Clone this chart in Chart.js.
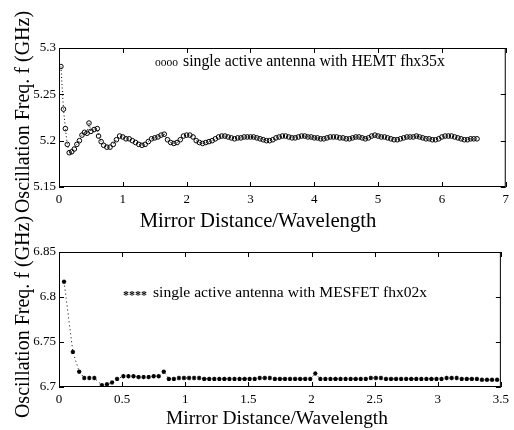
<!DOCTYPE html>
<html>
<head>
<meta charset="utf-8">
<script src="https://cdn.jsdelivr.net/npm/chart.js@4.4.1/dist/chart.umd.min.js"></script>
<style>
  html, body { margin: 0; padding: 0; background: #fff; }
  #wrap { position: relative; width: 514px; height: 430px; overflow: hidden; }
  #hemtChart { position: absolute; left: 0; top: 0; width: 514px; height: 240px; }
  #mesfetChart { position: absolute; left: 0; top: 195px; width: 514px; height: 235px; }
</style>
</head>
<body>
<div id="wrap">
  <canvas id="hemtChart" width="514" height="240"></canvas>
  <canvas id="mesfetChart" width="514" height="235"></canvas>
</div>
<script>
// top plot: HEMT fhx35x
const hemtDist = [
  0.03, 0.07, 0.10, 0.13, 0.16, 0.20, 0.24, 0.28, 0.32, 0.36, 0.40, 0.44, 0.47, 0.50, 0.55, 0.60, 0.62, 0.66, 0.70, 0.75,
  0.80, 0.85, 0.90, 0.95, 1.00, 1.05, 1.10, 1.15, 1.20, 1.25, 1.30, 1.35, 1.40, 1.45, 1.50, 1.55, 1.60, 1.65, 1.70, 1.75,
  1.80, 1.85, 1.90, 1.95, 2.00, 2.05, 2.10, 2.15, 2.20, 2.25, 2.30, 2.35, 2.40, 2.45, 2.50, 2.55, 2.60, 2.65, 2.70, 2.75,
  2.80, 2.85, 2.90, 2.95, 3.00, 3.05, 3.10, 3.15, 3.20, 3.25, 3.30, 3.35, 3.40, 3.45, 3.50, 3.55, 3.60, 3.65, 3.70, 3.75,
  3.80, 3.85, 3.90, 3.95, 4.00, 4.05, 4.10, 4.15, 4.20, 4.25, 4.30, 4.35, 4.40, 4.45, 4.50, 4.55, 4.60, 4.65, 4.70, 4.75,
  4.80, 4.85, 4.90, 4.95, 5.00, 5.05, 5.10, 5.15, 5.20, 5.25, 5.30, 5.35, 5.40, 5.45, 5.50, 5.55, 5.60, 5.65, 5.70, 5.75,
  5.80, 5.85, 5.90, 5.95, 6.00, 6.05, 6.10, 6.15, 6.20, 6.25, 6.30, 6.35, 6.40, 6.45, 6.50, 6.55
];
const hemtFreq = [
  5.280, 5.234, 5.213, 5.196, 5.187, 5.188, 5.191, 5.196, 5.200, 5.206, 5.209, 5.208, 5.219, 5.210, 5.212, 5.213, 5.205, 5.199, 5.195, 5.193,
  5.193, 5.196, 5.201, 5.205, 5.204, 5.202, 5.202, 5.200, 5.198, 5.196, 5.195, 5.196, 5.199, 5.202, 5.203, 5.204, 5.206, 5.207, 5.201, 5.198,
  5.197, 5.198, 5.201, 5.205, 5.206, 5.206, 5.204, 5.200, 5.198, 5.197, 5.198, 5.199, 5.200, 5.202, 5.204, 5.205, 5.205, 5.204, 5.203, 5.202,
  5.203, 5.203, 5.204, 5.204, 5.204, 5.204, 5.203, 5.202, 5.201, 5.200, 5.200, 5.201, 5.203, 5.204, 5.205, 5.205, 5.204, 5.203, 5.203, 5.204,
  5.205, 5.205, 5.204, 5.204, 5.203, 5.203, 5.202, 5.202, 5.203, 5.204, 5.204, 5.204, 5.203, 5.203, 5.202, 5.202, 5.203, 5.204, 5.204, 5.203,
  5.202, 5.203, 5.205, 5.206, 5.205, 5.204, 5.204, 5.203, 5.202, 5.201, 5.201, 5.202, 5.203, 5.204, 5.204, 5.204, 5.205, 5.204, 5.203, 5.202,
  5.202, 5.201, 5.201, 5.202, 5.204, 5.205, 5.205, 5.205, 5.204, 5.203, 5.202, 5.201, 5.201, 5.202, 5.202, 5.202
];
const hemtXTicks = [0, 1, 2, 3, 4, 5, 6, 7];
const hemtXLabels = ["0", "1", "2", "3", "4", "5", "6", "7"];
const hemtYTicks = [5.15, 5.2, 5.25, 5.3];
const hemtYLabels = ["5.15", "5.2", "5.25", "5.3"];

// bottom plot: MESFET fhx02x
const mesfetDist = [
  0.04, 0.11, 0.16, 0.20, 0.24, 0.28, 0.34, 0.38, 0.42, 0.46, 0.51, 0.55, 0.59, 0.63, 0.67, 0.71, 0.75, 0.79, 0.83, 0.87,
  0.91, 0.95, 0.99, 1.03, 1.07, 1.11, 1.15, 1.19, 1.23, 1.27, 1.31, 1.35, 1.39, 1.43, 1.47, 1.51, 1.55, 1.59, 1.63, 1.67,
  1.71, 1.75, 1.79, 1.83, 1.87, 1.91, 1.95, 1.99, 2.03, 2.07, 2.11, 2.15, 2.19, 2.23, 2.27, 2.31, 2.35, 2.39, 2.43, 2.47,
  2.51, 2.55, 2.59, 2.63, 2.67, 2.71, 2.75, 2.79, 2.83, 2.87, 2.91, 2.95, 2.99, 3.03, 3.07, 3.11, 3.15, 3.19, 3.23, 3.27,
  3.31, 3.35, 3.39, 3.43, 3.47
];
const mesfetFreq = [
  6.817, 6.739, 6.717, 6.710, 6.710, 6.710, 6.702, 6.703, 6.705, 6.709, 6.712, 6.712, 6.712, 6.711, 6.711, 6.711, 6.712, 6.712, 6.717, 6.709,
  6.709, 6.710, 6.710, 6.710, 6.710, 6.710, 6.709, 6.709, 6.709, 6.709, 6.709, 6.709, 6.709, 6.709, 6.709, 6.709, 6.709, 6.710, 6.710, 6.710,
  6.709, 6.709, 6.709, 6.709, 6.709, 6.709, 6.709, 6.709, 6.715, 6.709, 6.709, 6.709, 6.709, 6.709, 6.709, 6.709, 6.709, 6.709, 6.709, 6.710,
  6.710, 6.710, 6.709, 6.709, 6.709, 6.709, 6.709, 6.709, 6.709, 6.709, 6.709, 6.709, 6.709, 6.709, 6.710, 6.710, 6.710, 6.709, 6.709, 6.709,
  6.709, 6.708, 6.708, 6.708, 6.708
];
const mesfetXTicks = [0, 0.5, 1, 1.5, 2, 2.5, 3, 3.5];
const mesfetXLabels = ["0", "0.5", "1", "1.5", "2", "2.5", "3", "3.5"];
const mesfetYTicks = [6.7, 6.75, 6.8, 6.85];
const mesfetYLabels = ["6.7", "6.75", "6.8", "6.85"];

const serif = "'Liberation Serif', 'DejaVu Serif', serif";
Chart.defaults.font.family = serif;
Chart.defaults.color = "#000";

// box round the plot area with MATLAB style inward ticks on all four sides
const frameTicks = {
  id: "frameTicks",
  afterDatasetsDraw(chart) {
    const { ctx, chartArea: a, scales } = chart;
    const len = 5;
    ctx.save();
    ctx.strokeStyle = "#000";
    ctx.lineWidth = 1;
    ctx.strokeRect(a.left + 0.5, a.top + 0.5, a.right - a.left - 1, a.bottom - a.top - 1);
    ctx.beginPath();
    scales.x.ticks.forEach((t) => {
      const px = Math.round(scales.x.getPixelForValue(t.value)) + 0.5;
      ctx.moveTo(px, a.bottom);
      ctx.lineTo(px, a.bottom - len);
      ctx.moveTo(px, a.top);
      ctx.lineTo(px, a.top + len);
    });
    scales.y.ticks.forEach((t) => {
      const py = Math.round(scales.y.getPixelForValue(t.value)) + 0.5;
      ctx.moveTo(a.left, py);
      ctx.lineTo(a.left + len, py);
      ctx.moveTo(a.right, py);
      ctx.lineTo(a.right - len, py);
    });
    ctx.stroke();
    ctx.restore();
  },
};

// axis titles and the in-plot legend lines
const notes = {
  id: "notes",
  afterDraw(chart, args, opts) {
    const ctx = chart.ctx;
    ctx.save();
    ctx.fillStyle = "#000";
    ctx.textBaseline = "alphabetic";
    opts.items.forEach((n) => {
      ctx.font = n.font;
      ctx.textAlign = n.align || "left";
      ctx.save();
      ctx.translate(n.x, n.y);
      if (n.rotate) ctx.rotate(n.rotate);
      ctx.fillText(n.text, 0, 0);
      ctx.restore();
    });
    ctx.restore();
  },
};

const tickFont = { family: serif, size: 13 };

const makeScales = (xMin, xMax, xTicks, xLabels, yMin, yMax, yTicks, yLabels, xHeight) => ({
  x: {
    type: "linear",
    min: xMin,
    max: xMax,
    afterBuildTicks: (s) => { s.ticks = xTicks.map((v) => ({ value: v })); },
    afterFit: (s) => { s.height = xHeight; },
    ticks: {
      callback: (v, i) => xLabels[i],
      font: tickFont,
      color: "#000",
      padding: 5,
      maxRotation: 0,
      autoSkip: false,
    },
    grid: { display: false, drawTicks: false },
    border: { display: false },
  },
  y: {
    type: "linear",
    min: yMin,
    max: yMax,
    afterBuildTicks: (s) => { s.ticks = yTicks.map((v) => ({ value: v })); },
    afterFit: (s) => { s.width = 59; },
    ticks: {
      callback: (v, i) => yLabels[i],
      font: tickFont,
      color: "#000",
      padding: 3,
      autoSkip: false,
    },
    grid: { display: false, drawTicks: false },
    border: { display: false },
  },
});

const hemtCtx = document.getElementById("hemtChart").getContext("2d");
new Chart(hemtCtx, {
  type: "scatter",
  data: {
    datasets: [
      {
        label: "single active antenna with HEMT fhx35x",
        data: hemtDist.map((d, i) => ({ x: d, y: hemtFreq[i] })),
        showLine: true,
        borderColor: "#000",
        borderWidth: 1,
        borderDash: [1, 2.5],
        pointStyle: "circle",
        pointRadius: 2.3,
        pointBorderWidth: 1,
        pointBorderColor: "#000",
        pointBackgroundColor: "rgba(255,255,255,0)",
      },
    ],
  },
  options: {
    responsive: false,
    animation: false,
    layout: { padding: { top: 48, right: 6, left: 0, bottom: 0 } },
    plugins: {
      legend: { display: false },
      tooltip: { enabled: false },
      notes: {
        items: [
          { text: "Oscillation Freq. f (GHz)", x: 29, y: 112, rotate: -Math.PI / 2, align: "center", font: "20px " + serif },
          { text: "Mirror Distance/Wavelength", x: 258, y: 227, align: "center", font: "20.7px " + serif },
          { text: "oooo", x: 155, y: 66, font: "11.5px " + serif },
          { text: "single active antenna with HEMT fhx35x", x: 183, y: 66, font: "15.8px " + serif },
        ],
      },
    },
    scales: makeScales(0, 7, hemtXTicks, hemtXLabels, 5.15, 5.3, hemtYTicks, hemtYLabels, 53),
  },
  plugins: [frameTicks, notes],
});

const mesfetCtx = document.getElementById("mesfetChart").getContext("2d");
new Chart(mesfetCtx, {
  type: "scatter",
  data: {
    datasets: [
      {
        label: "single active antenna with MESFET fhx02x",
        data: mesfetDist.map((d, i) => ({ x: d, y: mesfetFreq[i] })),
        showLine: true,
        borderColor: "#000",
        borderWidth: 1,
        borderDash: [1, 3],
        pointStyle: "star",
        pointRadius: 2.2,
        pointBorderWidth: 1.2,
        pointBorderColor: "#000",
        pointBackgroundColor: "#000",
      },
    ],
  },
  options: {
    responsive: false,
    animation: false,
    layout: { padding: { top: 57, right: 7, left: 0, bottom: 0 } },
    plugins: {
      legend: { display: false },
      tooltip: { enabled: false },
      notes: {
        items: [
          { text: "Oscillation Freq. f (GHz)", x: 29, y: 122, rotate: -Math.PI / 2, align: "center", font: "20px " + serif },
          { text: "Mirror Distance/Wavelength", x: 277, y: 229, align: "center", font: "19.4px " + serif },
          { text: "****", x: 123, y: 104, font: "bold 12px " + serif },
          { text: "single active antenna with MESFET fhx02x", x: 153, y: 102, font: "15.6px " + serif },
        ],
      },
    },
    scales: makeScales(0, 3.5, mesfetXTicks, mesfetXLabels, 6.7, 6.85, mesfetYTicks, mesfetYLabels, 43),
  },
  plugins: [frameTicks, notes],
});
</script>
</body>
</html>
